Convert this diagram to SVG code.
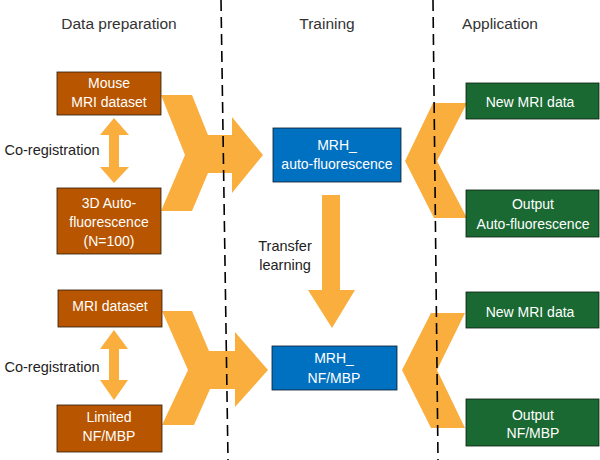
<svg xmlns="http://www.w3.org/2000/svg" width="600" height="460" viewBox="0 0 600 460">
<style>
.hdr{font-family:"Liberation Sans",Arial,sans-serif;font-size:15.5px;fill:#333;text-anchor:middle}
.lbl{font-family:"Liberation Sans",Arial,sans-serif;font-size:14.5px;fill:#222;text-anchor:middle}
.bt{font-family:"Liberation Sans",Arial,sans-serif;font-size:14px;fill:#fff;text-anchor:middle}
.brown{fill:#b75500;stroke:#2a1a0a;stroke-width:0.8}
.blue{fill:#0070c0;stroke:#0a1a2a;stroke-width:0.8}
.green{fill:#1a6932;stroke:#0a1a0e;stroke-width:0.8}
.arr{fill:#f9ae3e}
.div{stroke:#000;stroke-width:1.6;stroke-dasharray:11,6;fill:none}
</style>
<rect width="600" height="460" fill="#fff"/>
<g id="headers">
<text class="hdr" x="119" y="29">Data preparation</text>
<text class="hdr" x="327" y="29">Training</text>
<text class="hdr" x="500" y="29">Application</text>
</g>
<g id="connectors">
<polygon class="arr" points="161,95 192,95 208,135 232,135 232,117 263,155 232,193 232,173 208,173 192,211 161,211 185,155"/>
<polygon class="arr" points="162,311 192,311 209,351 235,351 235,332 268,370 235,407 235,389 210,389 194,425 162,425 188,370"/>
<polygon class="arr" points="433,103 467,103 437,161 467,218 434,218 405,161"/>
<polygon class="arr" points="431,313 465,313 437,370 465,428 431,428 402,370"/>
<polygon class="arr" points="114,118 129,135 119,135 119,167 129,167 114,183 100,167 109,167 109,135 100,135"/>
<polygon class="arr" points="114,330 128,349 119,349 119,380 128,380 114,400 100,380 109,380 109,349 100,349"/>
<polygon class="arr" points="322,195 340,195 340,290 355,290 332,328 308,290 322,290"/>
</g>
<g id="dividers">
<line class="div" x1="221" y1="0" x2="228" y2="460"/>
<line class="div" x1="433" y1="0" x2="438" y2="460"/>
</g>
<g id="labels">
<text class="lbl" x="52" y="155">Co-registration</text>
<text class="lbl" x="52" y="372">Co-registration</text>
<text class="lbl" x="285" y="251">Transfer</text>
<text class="lbl" x="285" y="270">learning</text>
</g>
<g id="mouse-mri">
<rect class="brown" x="57" y="72" width="104" height="43"/>
<text class="bt" x="109" y="88">Mouse</text>
<text class="bt" x="109" y="107">MRI dataset</text>
</g>
<g id="auto-fluor">
<rect class="brown" x="57" y="188" width="104" height="66"/>
<text class="bt" x="109" y="208">3D Auto-</text>
<text class="bt" x="109" y="227">fluorescence</text>
<text class="bt" x="109" y="246">(N=100)</text>
</g>
<g id="mri-dataset">
<rect class="brown" x="58" y="290" width="104" height="37"/>
<text class="bt" x="110" y="311">MRI dataset</text>
</g>
<g id="limited-nf">
<rect class="brown" x="57" y="405" width="105" height="47"/>
<text class="bt" x="109" y="422">Limited</text>
<text class="bt" x="109" y="441">NF/MBP</text>
</g>
<g id="mrh-auto">
<rect class="blue" x="273" y="128" width="128" height="54"/>
<text class="bt" x="337" y="150">MRH_</text>
<text class="bt" x="337" y="169">auto-fluorescence</text>
</g>
<g id="mrh-nf">
<rect class="blue" x="272" y="346" width="125" height="44"/>
<text class="bt" x="334" y="363">MRH_</text>
<text class="bt" x="334" y="383">NF/MBP</text>
</g>
<g id="new-mri-1">
<rect class="green" x="466" y="83" width="133" height="36"/>
<text class="bt" x="530" y="107">New MRI data</text>
</g>
<g id="output-auto">
<rect class="green" x="466" y="190" width="133" height="47"/>
<text class="bt" x="533" y="209">Output</text>
<text class="bt" x="533" y="229">Auto-fluorescence</text>
</g>
<g id="new-mri-2">
<rect class="green" x="466" y="292" width="133" height="36"/>
<text class="bt" x="530" y="317">New MRI data</text>
</g>
<g id="output-nf">
<rect class="green" x="466" y="399" width="133" height="47"/>
<text class="bt" x="533" y="420">Output</text>
<text class="bt" x="533" y="438">NF/MBP</text>
</g>
</svg>
